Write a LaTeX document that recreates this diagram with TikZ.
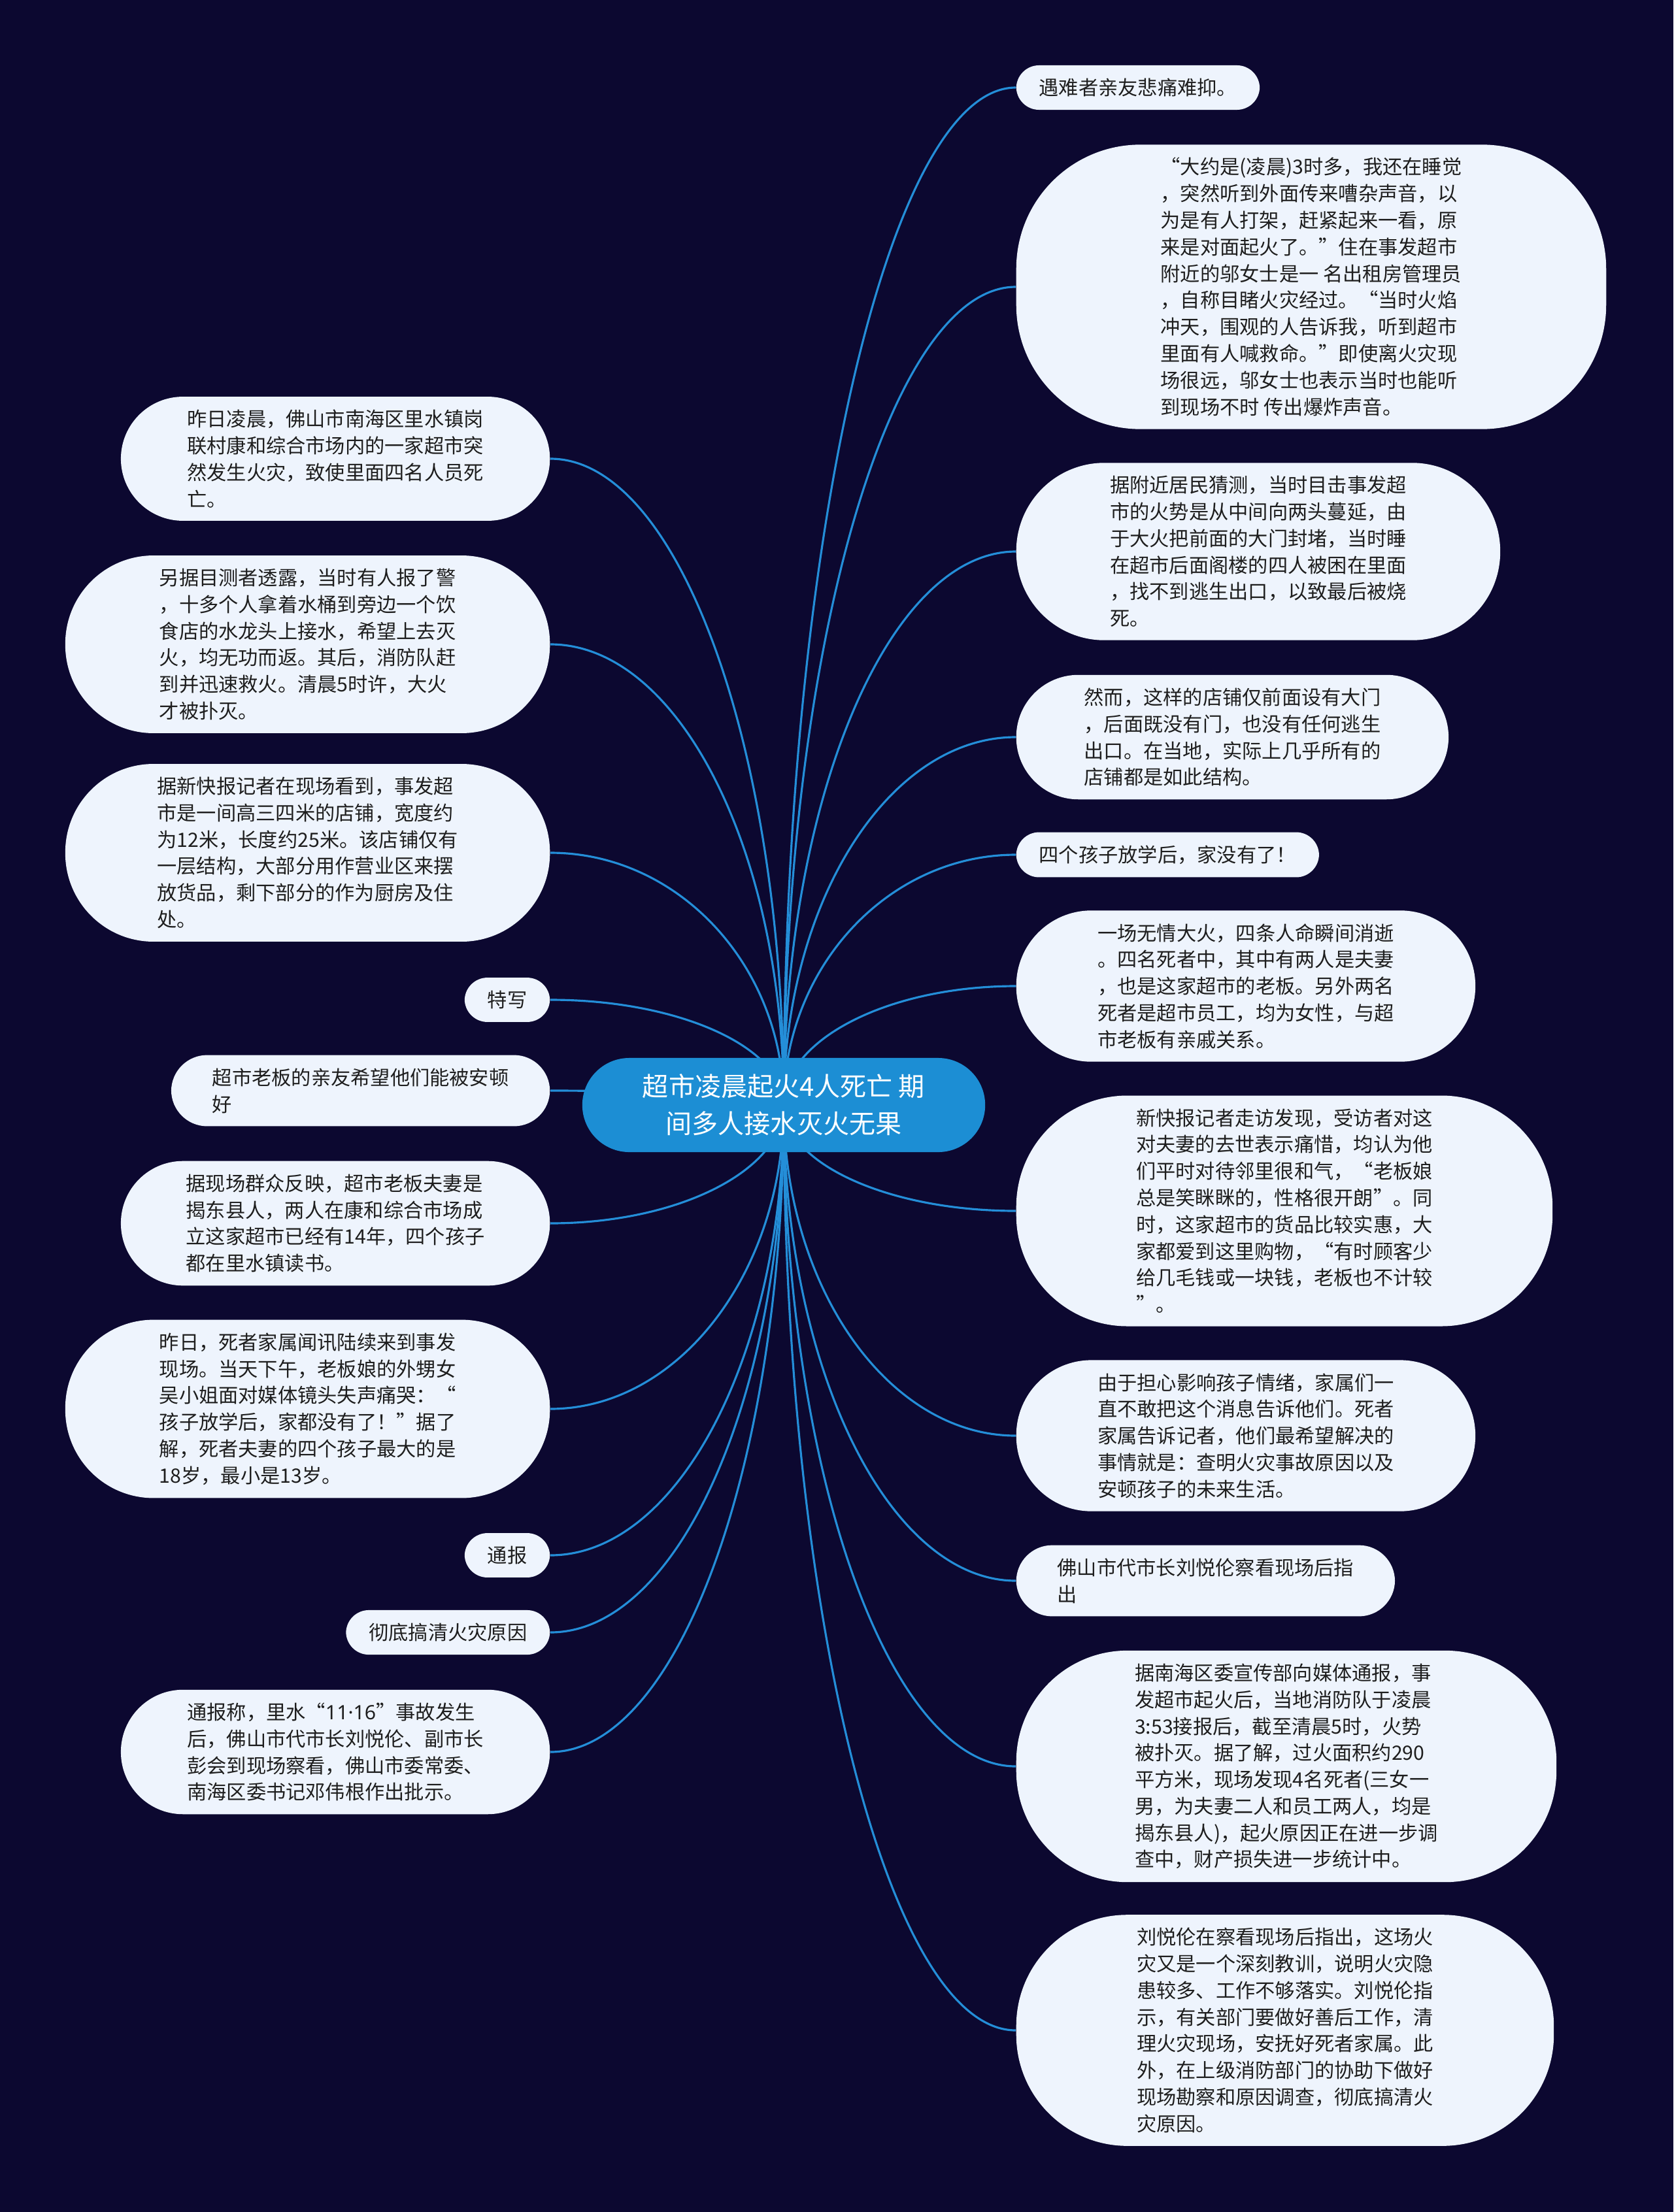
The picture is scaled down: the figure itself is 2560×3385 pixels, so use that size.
\documentclass[tikz,border=0pt]{standalone}
\usepackage{fontspec}
\setmainfont{Noto Sans CJK SC}
\newfontfamily\latinfont{Noto Sans}
\usetikzlibrary{calc}
\definecolor{navy}{RGB}{12,8,48}
\definecolor{hubblue}{RGB}{28,142,212}
\definecolor{wireblue}{RGB}{36,142,216}
\definecolor{leafbg}{RGB}{238,244,253}
\definecolor{leaftext}{RGB}{30,30,30}
\pgfdeclarelayer{back}
\pgfdeclarelayer{wires}
\pgfsetlayers{back,wires,main}

\begin{document}
\begin{tikzpicture}[
  x=0.01cm, y=-0.01cm,
  hub/.style={rectangle, fill=hubblue, text=white, rounded corners=0.72cm, minimum width=6.16cm, minimum height=1.44cm, align=center, font=\fontsize{11.4pt}{16.2pt}\selectfont},
  leaf/.style={rectangle, fill=leafbg, text=leaftext, rounded corners=#1, inner xsep=0.35cm, inner ysep=0.2cm, align=left, font=\fontsize{8.6pt}{11.6pt}\selectfont},
  leaf/.default=0.35cm,
  link/.style={wireblue, line width=0.9pt}
]

\useasboundingbox (0,0) rectangle (2560,3385);
\begin{pgfonlayer}{back}
\fill[navy] (0,0) rectangle (2560,3385);
\end{pgfonlayer}

% Central topic
\node[hub] (hub) at (1199,1691) {超市凌晨起火4人死亡 期\\间多人接水灭火无果};

% Right branch
\node[leaf, anchor=west] (r1) at (1554,134) {遇难者亲友悲痛难抑。};
\node[leaf=1.9cm, minimum width=9.02cm, anchor=west] (r2) at (1554,439) {“大约是(凌晨)3时多，我还在睡觉\\，突然听到外面传来嘈杂声音，以\\为是有人打架，赶紧起来一看，原\\来是对面起火了。”住在事发超市\\附近的邬女士是一 名出租房管理员\\，自称目睹火灾经过。“当时火焰\\冲天，围观的人告诉我，听到超市\\里面有人喊救命。”即使离火灾现\\场很远，邬女士也表示当时也能听\\到现场不时 传出爆炸声音。};
\node[leaf=1.35cm, minimum width=7.40cm, anchor=west] (r3) at (1554,844) {据附近居民猜测，当时目击事发超\\市的火势是从中间向两头蔓延，由\\于大火把前面的大门封堵，当时睡\\在超市后面阁楼的四人被困在里面\\，找不到逃生出口，以致最后被烧\\死。};
\node[leaf=0.95cm, minimum width=6.61cm, anchor=west] (r4) at (1554,1128) {然而，这样的店铺仅前面设有大门\\，后面既没有门，也没有任何逃生\\出口。在当地，实际上几乎所有的\\店铺都是如此结构。};
\node[leaf, anchor=west] (r5) at (1554,1308) {四个孩子放学后，家没有了！};
\node[leaf=1.15cm, minimum width=7.02cm, anchor=west] (r6) at (1554,1509) {一场无情大火，四条人命瞬间消逝\\。四名死者中，其中有两人是夫妻\\，也是这家超市的老板。另外两名\\死者是超市员工，均为女性，与超\\市老板有亲戚关系。};
\node[leaf=1.7cm, minimum width=8.20cm, anchor=west] (r7) at (1554,1853) {新快报记者走访发现，受访者对这\\对夫妻的去世表示痛惜，均认为他\\们平时对待邻里很和气，“老板娘\\总是笑眯眯的，性格很开朗”。同\\时，这家超市的货品比较实惠，大\\家都爱到这里购物，“有时顾客少\\给几毛钱或一块钱，老板也不计较\\”。};
\node[leaf=1.15cm, minimum width=7.02cm, anchor=west] (r8) at (1554,2197) {由于担心影响孩子情绪，家属们一\\直不敢把这个消息告诉他们。死者\\家属告诉记者，他们最希望解决的\\事情就是：查明火灾事故原因以及\\安顿孩子的未来生活。};
\node[leaf=0.55cm, minimum width=5.79cm, anchor=west] (r9) at (1554,2419) {佛山市代市长刘悦伦察看现场后指\\出};
\node[leaf=1.7cm, minimum width=8.26cm, anchor=west] (r10) at (1554,2703) {据南海区委宣传部向媒体通报，事\\发超市起火后，当地消防队于凌晨\\3:53接报后，截至清晨5时，火势\\被扑灭。据了解，过火面积约290\\平方米，现场发现4名死者(三女一\\男，为夫妻二人和员工两人，均是\\揭东县人)，起火原因正在进一步调\\查中，财产损失进一步统计中。};
\node[leaf=1.7cm, minimum width=8.22cm, anchor=west] (r11) at (1554,3107) {刘悦伦在察看现场后指出，这场火\\灾又是一个深刻教训，说明火灾隐\\患较多、工作不够落实。刘悦伦指\\示，有关部门要做好善后工作，清\\理火灾现场，安抚好死者家属。此\\外，在上级消防部门的协助下做好\\现场勘察和原因调查，彻底搞清火\\灾原因。};

% Left branch
\node[leaf=0.95cm, minimum width=6.56cm, anchor=east] (l1) at (842,702) {昨日凌晨，佛山市南海区里水镇岗\\联村康和综合市场内的一家超市突\\然发生火灾，致使里面四名人员死\\亡。};
\node[leaf=1.35cm, minimum width=7.41cm, anchor=east] (l2) at (842,986) {另据目测者透露，当时有人报了警\\，十多个人拿着水桶到旁边一个饮\\食店的水龙头上接水，希望上去灭\\火，均无功而返。其后，消防队赶\\到并迅速救火。清晨5时许，大火\\才被扑灭。};
\node[leaf=1.35cm, minimum width=7.41cm, anchor=east] (l3) at (842,1305) {据新快报记者在现场看到，事发超\\市是一间高三四米的店铺，宽度约\\为12米，长度约25米。该店铺仅有\\一层结构，大部分用作营业区来摆\\放货品，剩下部分的作为厨房及住\\处。};
\node[leaf, anchor=east] (l4) at (842,1530) {特写};
\node[leaf=0.55cm, minimum width=5.79cm, anchor=east] (l5) at (842,1669) {超市老板的亲友希望他们能被安顿\\好};
\node[leaf=0.95cm, minimum width=6.56cm, anchor=east] (l6) at (842,1872) {据现场群众反映，超市老板夫妻是\\揭东县人，两人在康和综合市场成\\立这家超市已经有14年，四个孩子\\都在里水镇读书。};
\node[leaf=1.35cm, minimum width=7.41cm, anchor=east] (l7) at (842,2156) {昨日，死者家属闻讯陆续来到事发\\现场。当天下午，老板娘的外甥女\\吴小姐面对媒体镜头失声痛哭：“\\孩子放学后，家都没有了！”据了\\解，死者夫妻的四个孩子最大的是\\18岁，最小是13岁。};
\node[leaf, anchor=east] (l8) at (842,2380) {通报};
\node[leaf, anchor=east] (l9) at (842,2498) {彻底搞清火灾原因};
\node[leaf=0.95cm, minimum width=6.56cm, anchor=east] (l10) at (842,2681) {通报称，里水“{\latinfont 11·16}”事故发生\\后，佛山市代市长刘悦伦、副市长\\彭会到现场察看，佛山市委常委、\\南海区委书记邓伟根作出批示。};

% Connectors
\begin{pgfonlayer}{wires}
\foreach \i in {1,...,11}
  \draw[link] (hub.center) .. controls ($(hub.center)!0.55!(hub.center |- r\i.west)$) and ($(r\i.west)!0.55!(hub.center |- r\i.west)$) .. (r\i.west);
\foreach \i in {1,...,10}
  \draw[link] (hub.center) .. controls ($(hub.center)!0.55!(hub.center |- l\i.east)$) and ($(l\i.east)!0.55!(hub.center |- l\i.east)$) .. (l\i.east);
\end{pgfonlayer}

\end{tikzpicture}
\end{document}
